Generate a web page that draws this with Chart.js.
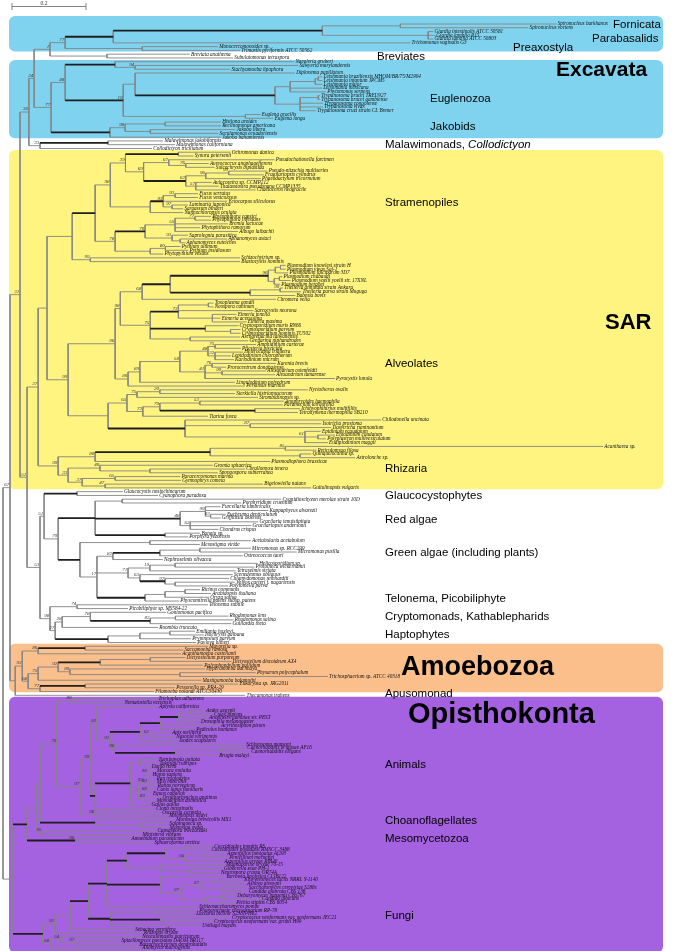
<!DOCTYPE html>
<html>
<head>
<meta charset="utf-8">
<script src="https://cdn.jsdelivr.net/npm/chart.js@4.4.1/dist/chart.umd.min.js"></script>
<style>
  html, body { margin: 0; padding: 0; background: #fff; }
  canvas { display: block; }
</style>
</head>
<body>
<canvas id="treeChart" width="688" height="951"></canvas>
<script>
// tree data, newick pieces. branch lengths in substitutions/site, "*" after a node = thick branch
const topTree = "(((((Spironucleus barkhanus:0.422,Spironucleus vortens:0.346):0.211,(Giardia intestinalis ATCC 50581:0.014,Giardia lamblia P15:0.019,Giardia lamblia ATCC 50803:0.014):0.286)*:0.565,Trichomonas vaginalis G3:0.803)*:0.130,(Monocercomonoides sp.:0.205,Trimastix pyriformis ATCC 50562:0.265):0.208)77:0.041,(Breviata anathema:0.224,Subulatomonas tetraspora:0.341):0.154)1:0.043";

const excavataTree = "(((Naegleria gruberi:0.484,(Sawyeria marylandensis:0.441,Stachyamoeba lipophora:0.257)94:0.054)*:0.135,((Diplonema papillatum:0.432,((((Leishmania braziliensis MHOM/BR/75/M2904:0.011,Leishmania infantum JPCM5:0.011):0.008,Leishmania major:0.019):0.068,Leishmania mexicana:0.086,Phytomonas serpens:0.097):0.041,((Trypanosoma brucei TREU927:0.005,Trypanosoma brucei gambiense:0.005):0.049,Trypanosoma congolense:0.062,Trypanosoma vivax:0.062,Trypanosoma cruzi strain CL Brener:0.043):0.068)*:0.378):0.032,(Euglena gracilis:0.041,Euglena longa:0.076):0.330)19*:0.157)48:0.038,(((Histiona aroides:0.151,Reclinomonas americana:0.151):0.108,(Jakoba libera:0.230,Seculamonas ecuadoriensis:0.184):0.068)98:0.041,Jakoba bahamiensis:0.300)*:0.159)77:0.046";

const malawiTree = "((Malawimonas jakobiformis:0.149,Malawimonas californiana:0.181)*:0.184,Collodictyon triciliatum:0.303)33:0.030";

const stramenopileTree = "(((((Ochromonas danica:0.141,Synura petersenii:0.041)*:0.143,((Pseudochattonella farcimen:0.286,(Aureococcus anophagefferens:0.062,Sulcochrysis biplastida:0.078)76:0.046)67:0.068,(((Pseudo-nitzschia multiseries:0.105,Fragilariopsis cylindrus:0.095)99:0.062,Phaeodactylum tricornutum:0.149)96:0.054,(Aulacoseira sp. CCMP212:0.043,Thalassiosira pseudonana CCMP1335:0.062,Chaetoceros neogracile:0.162)57:0.027)62*:0.114)69:0.049)39:0.041,(((Fucus serratus:0.062,Fucus vesiculosus:0.062)93:0.032,Ectocarpus siliculosus:0.173,(Laminaria japonica:0.043,Sargassum binderi:0.030)97:0.024)93*:0.035,Nannochloropsis oculata:0.089):0.108)98:0.041,((((Phytophthora capsici:0.043,Phytophthora infestans:0.043)77:0.054,Bremia lactucae:0.143,Phytophthora ramorum:0.068,Albugo laibachii:0.170)55:0.081,(Saprolegnia parasitica:0.043,(Aphanomyces astaci:0.127,Aphanomyces euteiches:0.014):0.022)93:0.073)70*:0.081,((Pythium ultimum:0.041,Pythium insidiosum:0.062)80:0.041,Phytopythium vexans:0.035):0.095)78:0.054)*:0.062,(Schizochytrium sp.:0.405,Blastocystis hominis:0.405)99:0.049):0.068";

const alveolateTree = "((((((((Plasmodium knowlesi strain H:0.014,Plasmodium vivax Sal-1:0.014):0.014,Plasmodium falciparum 3D7:0.035):0.019,((Plasmodium chabaudi:0.008,Plasmodium yoelii yoelii str. 17XNL:0.030):0.014,Plasmodium berghei:0.016):0.016)96*:0.265,((Theileria annulata strain Ankara:0.008,Theileria parva strain Muguga:0.057)99:0.081,Babesia bovis:0.122)*:0.216)*:0.076,Chromera velia:0.362)68:0.059,(((Toxoplasma gondii:0.014,Neospora caninum:0.014):0.081,Sarcocystis neurona:0.203,(Eimeria tenella:0.065,Eimeria acervulina:0.022,Eimeria maxima:0.092):0.092)73*:0.076,(Cryptosporidium muris RN66:0.089,(Cryptosporidium parvum:0.027,Cryptosporidium hominis TU502:0.027):0.068)*:0.149,(Ascogregarina taiwanensis:0.135,Gregarina niphandrodes:0.157):0.108)75:0.081)98:0.014,(((((Amphidinium carterae:0.111,Pfiesteria piscicida:0.070)75:0.019,(Heterocapsa triquetra:0.076,Lepidodinium chlorophorum:0.043,Karlodinium micrum:0.051)32:0.019)48:0.076,((Karenia brevis:0.173,Prorocentrum donghaiense:0.038)76:0.019,(Alexandrium ostenfeldii:0.119,Alexandrium tamarense:0.143)99:0.046,Pyrocystis lunula:0.351)41:0.068)58:0.108,Lingulodinium polyedrum:0.257)89:0.032,Perkinsus marinus:0.316)80:0.035)96:0.127,((((Nyctotherus ovalis:0.400,Sterkiella histriomuscorum:0.203)20:0.062,Strombidinopsis sp.:0.327)75:0.027,(((Anophryoides haemophila:0.227,Paramecium tetraurelia:0.224)53:0.108,(Ichthyophthirius multifiliis:0.122,Tetrahymena thermophila SB210:0.116)*:0.257)79:0.046,Tiarina fusca:0.176)73:0.043)65:0.051,(Chilodonella uncinata:0.530,(Isotricha prostoma:0.192,Dasytricha ruminantium:0.219)87:0.176,(Epidinium ecaudatum:0.043,(Entodinium caudatum:0.046,Polyplastron multivesiculatum:0.022):0.035,Eudiplodinium maggii:0.062)61:0.324)*:0.208):0.108)99:0.057";

const rhizariaTree = "((((Acantharea sp.:0.859,Reticulomyxa filosa:0.084)85:0.203,(Quinqueloculina sp.:0.030,Astrolonche sp.:0.149):0.243)*:0.311,Plasmodiophora brassicae:0.473)80:0.100,((Gromia sphaerica:0.305,(Corallomyxa tenera:0.257,Spongospora subterranea:0.184):0.135)40:0.086,((Paracercomonas marina:0.176,Gymnophrys cometa:0.178)65:0.089,(Bigelowiella natans:0.427,Guttulinopsis vulgaris:0.557)47:0.062)37:0.038)33:0.027)99:0.054";

const archaeplastidaTree = "(((Glaucocystis nostochinearum:0.124,Cyanophora paradoxa:0.219)*:0.089,(((Cyanidioschyzon merolae strain 10D:0.430,Porphyridium cruentum:0.322):0.073,((Furcellaria lumbricalis:0.041,Kappaphycus alvarezii:0.170,(Eucheuma denticulatum:0.041,Griffithsia okiensis:0.027)83:0.014)99:0.068,(Gracilaria tenuistipitata:0.184,Gracilariopsis andersonii:0.165,Chondrus crispus:0.076)62:0.027)48*:0.230,(Bangia sp.:0.095,Porphyra yezoensis:0.062)*:0.189)*:0.100,((Acetabularia acetabulum:0.273,Mesostigma viride:0.135):0.189,((((Micromonas sp. RCC299:0.138,Micromonas pusilla:0.262):0.108,Ostreococcus tauri:0.224)*:0.127,Nephroselmis olivacea:0.135)82:0.043,(((Helicosporidium sp.:0.224,Prototheca wickerhamii:0.214):0.068,Tetraselmis striata:0.232)19:0.059,(Scenedesmus obliquus:0.251,(Chlamydomonas reinhardtii:0.173,(Volvox carteri f. nagariensis:0.162,Polytomella parva:0.143):0.027)97*:0.068)63:0.032)71:0.084,(((Ricinus communis:0.041,Arabidopsis thaliana:0.070):0.054,Oryza sativa:0.119):0.054,Physcomitrella patens subsp. patens:0.092)*:0.130)17:0.046)*:0.059)79:0.038)51:0.011,((Telonema subtile:0.354,Picobiliphyte sp. MS584-22:0.138)74:0.073,(((Goniomonas pacifica:0.205,((Rhodomonas lens:0.143,Rhodomonas salina:0.157):0.068,Guillardia theta:0.219)82*:0.162)78:0.076,Roombia truncata:0.259)28:0.019,(((Emiliania huxleyi:0.068,Isochrysis galbana:0.092):0.081,Prymnesium parvum:0.138):0.086,Pavlova lutheri:0.238)*:0.143)27:0.014)98:0.027)53:0.035";

const amoebozoaTree = "((((Mayorella sp.:0.332,Saccamoeba ramosa:0.265)*:0.127,Acanthamoeba castellanii:0.386)86:0.043,(((((Dictyostelium purpureum:0.095,Dictyostelium discoideum AX4:0.219):0.135,Polysphondylium pallidum:0.278)*:0.114,(Hyperamoeba dachnaya:0.365,(Physarum polycephalum:0.205,Trichosphaerium sp. ATCC 40318:0.400):0.297)89:0.032)92:0.054,Mastigamoeba balamuthi:0.441)75:0.027,((Eukaryota sp. JRG2011:0.414,Pessonella sp. PRA-29:0.243)*:0.122,Filamoeba nolandi ATCC50430:0.308)77:0.032)68:0.016)93:0.019,Thecamonas trahens:0.622):0.014";

const holozoaTree = "(((((Trichoplax adhaerens:0.230,Nematostella vectensis:0.138)80:0.041,(((Aplysia californica:0.165,(((((Aedes aegypti:0.041,Culex pipiens:0.062):0.032,Anopheles gambiae str. PEST:0.081,Drosophila melanogaster:0.059)*:0.049,Acyrthosiphon pisum:0.162,Pediculus humanus:0.095)*:0.054,(Apis mellifera:0.057,Nasonia vitripennis:0.068)62:0.027,Ixodes scapularis:0.103)*:0.081,(Schistosoma mansoni:0.351,((Caenorhabditis briggsae AF16:0.070,Caenorhabditis elegans:0.081):0.122,Brugia malayi:0.116)*:0.162)96:0.014)91:0.035)81:0.019,(((Taeniopygia guttata:0.046,(Takifugu rubripes:0.035,Danio rerio:0.014):0.014):0.027,(((Macaca mulatta:0.022,(Homo sapiens:0.005,Pan troglodytes:0.016):0.005)98:0.011,(Mus musculus:0.022,Rattus norvegicus:0.024)40:0.011,(Canis lupus familiaris:0.022,Equus caballus:0.011)68:0.011)99:0.014,(Ornithorhynchus anatinus:0.043,Monodelphis domestica:0.027)89:0.019):0.022,Gallus gallus:0.054)*:0.095,Ciona intestinalis:0.162)*:0.014)99:0.027,(Oscarella carmela:0.178,Mnemiopsis leidyi:0.197)96:0.041)97:0.062)70:0.046,(Monosiga brevicollis MX1:0.216,(Salpingoeca sp.:0.076,Monosiga ovata:0.076):0.122)*:0.149):0.008,(Capsaspora owczarzaki:0.308,Ministeria vibrans:0.268)95:0.014):0.027,(Amoebidium parasiticum:0.149,Sphaeroforma arctica:0.211)98*:0.130)*:0.038";

const fungiTree = "((((((((Coccidioides immitis RS:0.076,Coccidioides posadasii RMSCC 3488:0.068):0.054,((Aspergillus fumigatus Af293:0.057,Penicillium marneffei:0.062):0.054,Aspergillus oryzae RIB40:0.103)66:0.054)*:0.103,(Magnaporthe oryzae 70-15:0.176,(Gibberella zeae PH-1:0.089,Neurospora crassa OR74A:0.081):0.081):0.089)*:0.054,(Yarrowia lipolytica CLIB122:0.176,(((Kluyveromyces lactis NRRL Y-1140:0.076,Ashbya gossypii:0.084):0.041,(Saccharomyces cerevisiae S288c:0.070,Candida glabrata CBS 138:0.070):0.059)87:0.054,((Debaryomyces hansenii CBS767:0.038,Candida albicans:0.105):0.046,Pichia stipitis CBS 6054:0.081):0.068)97:0.054)*:0.143,Schizosaccharomyces pombe:0.246)*:0.051,((Phanerochaete chrysosporium RP-78:0.116,Laccaria bicolor S238N-H82:0.108):0.122,(Cryptococcus neoformans var. neoformans JEC21:0.192,Cryptococcus neoformans var. grubii H99:0.143)*:0.135,Ustilago maydis:0.246)*:0.059)*:0.049,Sebacina vermifera:0.173):0.041,Rhizopus oryzae:0.238)92:0.032,((Neocallimastix patriciarum:0.219,(Spizellomyces punctatus DAOM BR117:0.122,Batrachochytrium dendrobatidis:0.170)97:0.041)54:0.027,Allomyces macrogynus:0.246)60:0.019)*:0.081";

const backbone = "((((({top},{excavata})24:0.014,{malawi})36:0.024,((({stramenopiles},{alveolates}):0.024,{rhizaria})37:0.030,{archaeplastida})51:0.019)31:0.027,{amoebozoa})67:0.019,({holozoa},{fungi}):0.027);";

// clade labels on the right, anchored to a leaf (shift in leaf rows)
const cladeNames = ["Fornicata", "Parabasalids", "Preaxostyla", "Breviates", "Euglenozoa", "Jakobids", "Malawimonads, ", "Stramenopiles", "Alveolates", "Rhizaria", "Glaucocystophytes", "Red algae", "Green algae (including plants)", "Telonema, Picobiliphyte", "Cryptomonads, Kathablepharids", "Haptophytes", "Apusomonad", "Animals", "Choanoflagellates", "Mesomycetozoa", "Fungi"];
const cladeItalicTail = ["", "", "", "", "", "", "Collodictyon", "", "", "", "", "", "", "", "", "", "", "", "", "", ""];
const cladeAnchors = ["Spironucleus barkhanus", "Giardia lamblia ATCC 50803", "Monocercomonoides sp.", "Subulatomonas tetraspora", "Trypanosoma brucei TREU927", "Reclinomonas americana", "Malawimonas californiana", "Ectocarpus siliculosus", "Karenia brevis", "Corallomyxa tenera", "Cyanophora paradoxa", "Griffithsia okiensis", "Micromonas pusilla", "Physcomitrella patens subsp. patens", "Rhodomonas lens", "Isochrysis galbana", "Thecamonas trahens", "Danio rerio", "Monosiga brevicollis MX1", "Amoebidium parasiticum", "Laccaria bicolor S238N-H82"];
const cladeShift = [0.2, 0, 0.35, -0.3, 0.8, 0.2, 0, 0.3, 0, 0, 0, 0.5, 0.2, -0.5, 0.2, 0, -0.3, -0.5, 0.2, 0, 0.5];

const groupNames = ["Excavata", "SAR", "Amoebozoa", "Opisthokonta"];
const groupAnchors = ["Stachyamoeba lipophora", "Eimeria maxima", "Hyperamoeba dachnaya", "Anopheles gambiae str. PEST"];
const groupShift = [0.3, 0.2, -0.4, -0.9];

// shaded boxes: first and last leaf
const boxFrom = ["Spironucleus barkhanus", "Naegleria gruberi", "Ochromonas danica", "Mayorella sp.", "Trichoplax adhaerens"];
const boxTo = ["Trimastix pyriformis ATCC 50562", "Jakoba bahamiensis", "Guttulinopsis vulgaris", "Filamoeba nolandi ATCC50430", "Allomyces macrogynus"];

const scaleBarValue = 0.2;

// ---- layout / style ----
const boxColors = ["#7fd3ee", "#7fd3ee", "#fff47f", "#fbbf8b", "#a461e0"];
const boxPad = [[2.1, 0.3], [0.45, 0.3], [0.6, 0.35], [0.7, 0.2], [0.6, 1.2]];
const boxLeft = 9, boxRight = 663;
const cladeX = [613, 592, 513, 377, 430, 430, 385, 385, 385, 385, 385, 385, 385, 385, 385, 385, 385, 385, 385, 385, 385];
const groupX = [556, 605, 401, 408];
const groupSize = [21, 22, 27, 29];
const rootPx = 3, pxPerUnit = 370, firstLeafPx = 24, lastLeafPx = 948;

function parseNewick(str) {
  let i = 0;
  function readNode() {
    const node = { children: [], label: "", len: 0 };
    if (str[i] === "(") {
      i++;
      while (true) {
        node.children.push(readNode());
        const c = str[i++];
        if (c !== ",") break;
      }
    }
    let label = "";
    while (i < str.length && !":,();".includes(str[i])) label += str[i++];
    label = label.trim();
    node.thick = label.endsWith("*");
    node.label = label.replace("*", "");
    if (str[i] === ":") {
      i++;
      let num = "";
      while (i < str.length && !",();".includes(str[i])) num += str[i++];
      node.len = parseFloat(num);
    }
    return node;
  }
  return readNode();
}

const pieces = {
  top: topTree, excavata: excavataTree, malawi: malawiTree,
  stramenopiles: stramenopileTree, alveolates: alveolateTree, rhizaria: rhizariaTree,
  archaeplastida: archaeplastidaTree, amoebozoa: amoebozoaTree,
  holozoa: holozoaTree, fungi: fungiTree,
};
const root = parseNewick(backbone.replace(/\{(\w+)\}/g, (m, k) => pieces[k]));

const leaves = [];
const inner = [];
function layout(node, parentX) {
  node.x = parentX + node.len;
  if (!node.children.length) {
    node.y = leaves.length;
    leaves.push(node);
    return;
  }
  node.children.forEach((ch) => layout(ch, node.x));
  node.y = (node.children[0].y + node.children[node.children.length - 1].y) / 2;
  inner.push(node);
}
layout(root, 0);

const leafIndex = {};
leaves.forEach((l) => (leafIndex[l.label] = l.y));

const thinPts = [];
const thickPts = [];
function addSeg(arr, x1, y1, x2, y2) {
  arr.push({ x: x1, y: y1 }, { x: x2, y: y2 }, { x: x2, y: null });
}
function walk(node, parent) {
  if (parent) addSeg(node.thick ? thickPts : thinPts, parent.x, node.y, node.x, node.y);
  if (node.children.length) {
    const first = node.children[0];
    const last = node.children[node.children.length - 1];
    addSeg(thinPts, node.x, first.y, node.x, last.y);
    node.children.forEach((ch) => walk(ch, node));
  }
}
walk(root, null);

const rowPx = (lastLeafPx - firstLeafPx) / (leaves.length - 1);
const yMin = -firstLeafPx / rowPx;
const yMax = yMin + 951 / rowPx;
const xMin = -rootPx / pxPerUnit;
const xMax = xMin + 688 / pxPerUnit;

function anchorRow(name, shift) {
  return (leafIndex[name] !== undefined ? leafIndex[name] : 0) + shift;
}

const treeDecor = {
  id: "treeDecor",
  beforeDatasetsDraw(chart) {
    const { ctx, scales: { y } } = chart;
    ctx.save();
    boxFrom.forEach((from, i) => {
      const top = y.getPixelForValue(leafIndex[from] - boxPad[i][0]);
      const bottom = y.getPixelForValue(leafIndex[boxTo[i]] + boxPad[i][1]);
      ctx.fillStyle = boxColors[i];
      ctx.beginPath();
      ctx.roundRect(boxLeft, top, boxRight - boxLeft, bottom - top, 6);
      ctx.fill();
    });
    ctx.restore();
  },
  afterDatasetsDraw(chart) {
    const { ctx, scales: { x, y } } = chart;
    ctx.save();

    // leaf names
    ctx.fillStyle = "#111";
    ctx.textBaseline = "middle";
    ctx.textAlign = "left";
    ctx.font = "italic 5.2px 'Liberation Serif'";
    leaves.forEach((l) => {
      ctx.fillText(l.label, x.getPixelForValue(l.x) + 1.2, y.getPixelForValue(l.y));
    });

    // support values
    ctx.fillStyle = "#333";
    ctx.textAlign = "right";
    ctx.textBaseline = "bottom";
    ctx.font = "italic 5px 'Liberation Serif'";
    inner.forEach((n) => {
      if (n.label) ctx.fillText(n.label, x.getPixelForValue(n.x) - 0.8, y.getPixelForValue(n.y) - 0.4);
    });

    // scale bar
    const barLen = x.getPixelForValue(scaleBarValue) - x.getPixelForValue(0);
    ctx.strokeStyle = "#666";
    ctx.lineWidth = 0.8;
    ctx.beginPath();
    ctx.moveTo(12, 6.5); ctx.lineTo(12 + barLen, 6.5);
    ctx.moveTo(12, 3); ctx.lineTo(12, 10);
    ctx.moveTo(12 + barLen, 3); ctx.lineTo(12 + barLen, 10);
    ctx.stroke();
    ctx.fillStyle = "#333";
    ctx.textAlign = "center";
    ctx.textBaseline = "alphabetic";
    ctx.font = "5.5px 'Liberation Serif'";
    ctx.fillText(String(scaleBarValue), 44, 5);

    // clade labels
    ctx.fillStyle = "#000";
    ctx.textAlign = "left";
    ctx.textBaseline = "middle";
    cladeNames.forEach((name, i) => {
      const py = y.getPixelForValue(anchorRow(cladeAnchors[i], cladeShift[i]));
      ctx.font = "11.5px 'Liberation Sans'";
      ctx.fillText(name, cladeX[i], py);
      if (cladeItalicTail[i]) {
        const w = ctx.measureText(name).width;
        ctx.font = "italic 11.5px 'Liberation Sans'";
        ctx.fillText(cladeItalicTail[i], cladeX[i] + w, py);
      }
    });
    groupNames.forEach((name, i) => {
      ctx.font = "bold " + groupSize[i] + "px 'Liberation Sans'";
      ctx.fillText(name, groupX[i], y.getPixelForValue(anchorRow(groupAnchors[i], groupShift[i])));
    });
    ctx.restore();
  },
};

new Chart(document.getElementById("treeChart"), {
  type: "scatter",
  data: {
    datasets: [
      { data: thickPts, showLine: true, borderColor: "#1e1e1e", borderWidth: 1.8, pointRadius: 0, spanGaps: false },
      { data: thinPts, showLine: true, borderColor: "#858585", borderWidth: 0.9, pointRadius: 0, spanGaps: false },
    ],
  },
  options: {
    responsive: false,
    animation: false,
    events: [],
    layout: { padding: 0 },
    plugins: { legend: { display: false }, tooltip: { enabled: false } },
    scales: {
      x: { type: "linear", display: false, min: xMin, max: xMax },
      y: { type: "linear", display: false, reverse: true, min: yMin, max: yMax },
    },
  },
  plugins: [treeDecor],
});
</script>
</body>
</html>
